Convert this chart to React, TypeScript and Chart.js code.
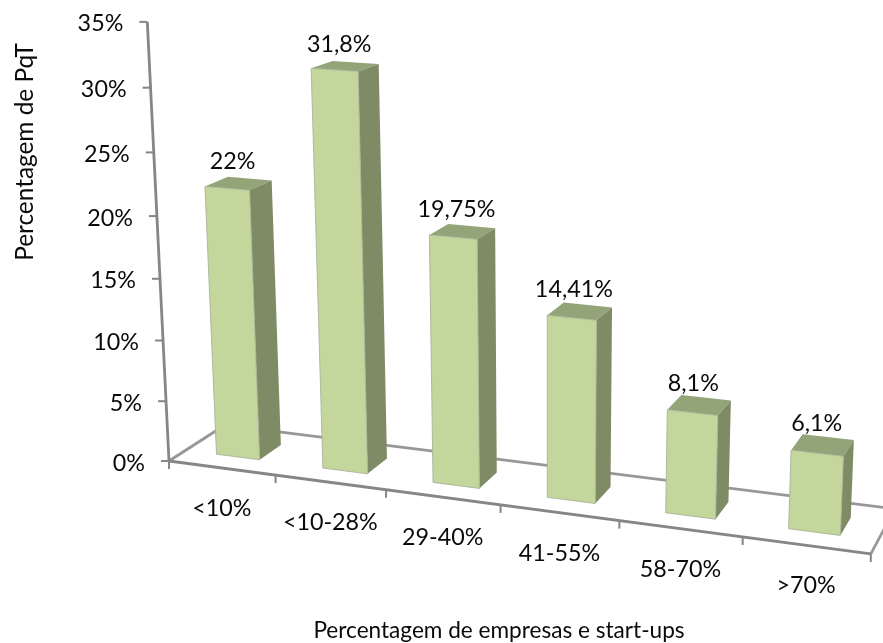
import React, { useEffect, useRef } from "react";
import { Chart, registerables } from "chart.js";

Chart.register(...registerables);

const categories = ["<10%", "<10-28%", "29-40%", "41-55%", "58-70%", ">70%"];
const shares = [22, 31.8, 19.75, 14.41, 8.1, 6.1];
const valueMax = 35;
const valueStep = 5;
const axisTitleY = "Percentagem de PqT";
const axisTitleX = "Percentagem de empresas e start-ups";

const FONT = "Lato, Carlito, 'Open Sans', sans-serif";
const FACE_FRONT = "#c3d69b";
const FACE_SIDE = "#7e8b65";
const FACE_TOP = "#93a478";
const FACE_EDGE = "rgba(170,180,155,0.9)";
const AXIS = "#868686";
const FLOOR = "#979797";
const INK = "#0a0a0a";

// Depth range of a column on the floor, as a fraction of the floor's depth.
const COLUMN_DEPTH: [number, number] = [0.29, 0.69];

// Homogeneous camera matrix: (u, v, w) = (category slot, value, depth) to screen.
const CAMERA = {
  x: [101.8, -0.848, 67.54, 169],
  y: [5.84, -12.58, -14.14, 461],
  d: [-0.01742, -0.00155, 0.0514, 1],
};

function project(u: number, v: number, w: number): [number, number] {
  const row = (r: number[]) => r[0] * u + r[1] * v + r[2] * w + r[3];
  const d = row(CAMERA.d);
  return [row(CAMERA.x) / d, row(CAMERA.y) / d];
}

// Slot position for a pixel on the flat category scale.
function slotAt(chart: any, px: number): number {
  const { left, width } = chart.chartArea;
  return ((px - left) / width) * categories.length;
}

function polygon(ctx: CanvasRenderingContext2D, pts: [number, number][], fill: string, stroke?: string) {
  ctx.beginPath();
  pts.forEach((p, i) => (i ? ctx.lineTo(p[0], p[1]) : ctx.moveTo(p[0], p[1])));
  ctx.closePath();
  ctx.fillStyle = fill;
  ctx.fill();
  if (stroke) {
    ctx.strokeStyle = stroke;
    ctx.lineWidth = 1;
    ctx.stroke();
  }
}

function segment(ctx: CanvasRenderingContext2D, a: [number, number], b: [number, number], color: string, width: number) {
  ctx.beginPath();
  ctx.moveTo(a[0], a[1]);
  ctx.lineTo(b[0], b[1]);
  ctx.strokeStyle = color;
  ctx.lineWidth = width;
  ctx.stroke();
}

function label(ctx: CanvasRenderingContext2D, text: string, x: number, y: number, size: number, align: CanvasTextAlign = "center") {
  ctx.font = `${size}px ${FONT}`;
  ctx.fillStyle = INK;
  ctx.textAlign = align;
  ctx.textBaseline = "middle";
  ctx.fillText(text, x, y);
}

const perspectiveBars = {
  id: "perspectiveBars",
  // Floor edges and both axes sit behind the columns.
  beforeDatasetsDraw(chart: any) {
    const ctx: CanvasRenderingContext2D = chart.ctx;
    const slots = categories.length;
    const yScale = chart.scales.y;
    const xScale = chart.scales.x;
    ctx.save();
    ctx.lineCap = "butt";
    segment(ctx, project(0, 0, 0), project(0, 0, 1), FLOOR, 2.8);
    segment(ctx, project(0, 0, 1), project(slots, 0, 1), FLOOR, 2.8);
    segment(ctx, project(slots, 0, 0), project(slots, 0, 1), FLOOR, 2.8);
    segment(ctx, project(0, 0, 0), project(0, valueMax, 0), AXIS, 2.8);
    segment(ctx, project(0, 0, 0), project(slots, 0, 0), AXIS, 2.8);

    yScale.ticks.forEach((tick: any) => {
      const v = yScale.getValueForPixel(yScale.getPixelForValue(tick.value));
      const [px, py] = project(0, v, 0);
      segment(ctx, [px - 8, py], [px, py], AXIS, 2);
      label(ctx, tick.label, px - 24, py + 2, 23.3, "right");
    });

    for (let i = 0; i <= slots; i++) {
      const [px, py] = project(i, 0, 0);
      segment(ctx, [px, py], [px, py + 8], AXIS, 2);
    }
    categories.forEach((_, i) => {
      const u = slotAt(chart, xScale.getPixelForValue(i));
      const [px, py] = project(u, 0, 0);
      label(ctx, xScale.getLabelForValue(i), px, py + 40.5, 23.3);
    });

    label(ctx, axisTitleX, 499, 631, 22.6);
    ctx.translate(25, 152);
    ctx.rotate(-Math.PI / 2);
    label(ctx, axisTitleY, 0, 0, 24.4);
    ctx.restore();
  },
  // Columns are drawn as boxes from the resolved bar elements.
  beforeDatasetDraw(chart: any, args: any) {
    const ctx: CanvasRenderingContext2D = chart.ctx;
    const yScale = chart.scales.y;
    const [w0, w1] = COLUMN_DEPTH;
    ctx.save();
    args.meta.data.forEach((bar: any) => {
      const u0 = slotAt(chart, bar.x - bar.width / 2);
      const u1 = slotAt(chart, bar.x + bar.width / 2);
      const top = yScale.getValueForPixel(bar.y);
      const bottom = yScale.getValueForPixel(bar.base);
      polygon(ctx, [project(u0, top, w0), project(u1, top, w0), project(u1, top, w1), project(u0, top, w1)], FACE_TOP);
      polygon(ctx, [project(u1, bottom, w0), project(u1, top, w0), project(u1, top, w1), project(u1, bottom, w1)], FACE_SIDE);
      polygon(ctx, [project(u0, bottom, w0), project(u1, bottom, w0), project(u1, top, w0), project(u0, top, w0)], FACE_FRONT, FACE_EDGE);
    });
    ctx.restore();
    return false;
  },
  afterDatasetsDraw(chart: any) {
    const ctx: CanvasRenderingContext2D = chart.ctx;
    const yScale = chart.scales.y;
    const [w0, w1] = COLUMN_DEPTH;
    ctx.save();
    chart.getDatasetMeta(0).data.forEach((bar: any, i: number) => {
      const u = slotAt(chart, bar.x);
      const [px, py] = project(u, yScale.getValueForPixel(bar.y), (w0 + w1) / 2);
      const text = `${String(shares[i]).replace(".", ",")}%`;
      label(ctx, text, px - 6, py - 22, 23.3);
    });
    ctx.restore();
  },
};

export default function App() {
  const canvasRef = useRef<HTMLCanvasElement | null>(null);

  useEffect(() => {
    const chart = new Chart(canvasRef.current as HTMLCanvasElement, {
      type: "bar",
      data: {
        labels: categories,
        datasets: [{ data: shares, barPercentage: 0.41, categoryPercentage: 1, backgroundColor: FACE_FRONT }],
      },
      options: {
        responsive: false,
        animation: false,
        layout: { padding: 20 },
        plugins: { legend: { display: false }, tooltip: { enabled: false } },
        scales: {
          x: { display: false, offset: true },
          y: {
            display: false,
            min: 0,
            max: valueMax,
            ticks: { stepSize: valueStep, callback: (v: any) => `${v}%` },
          },
        },
      },
      plugins: [perspectiveBars],
    } as any);
    return () => chart.destroy();
  }, []);

  return (
    <div style={{ position: "fixed", left: 0, top: 0, width: 883, height: 643, background: "#fff" }}>
      <canvas ref={canvasRef} width={883} height={643} style={{ display: "block" }} />
    </div>
  );
}
